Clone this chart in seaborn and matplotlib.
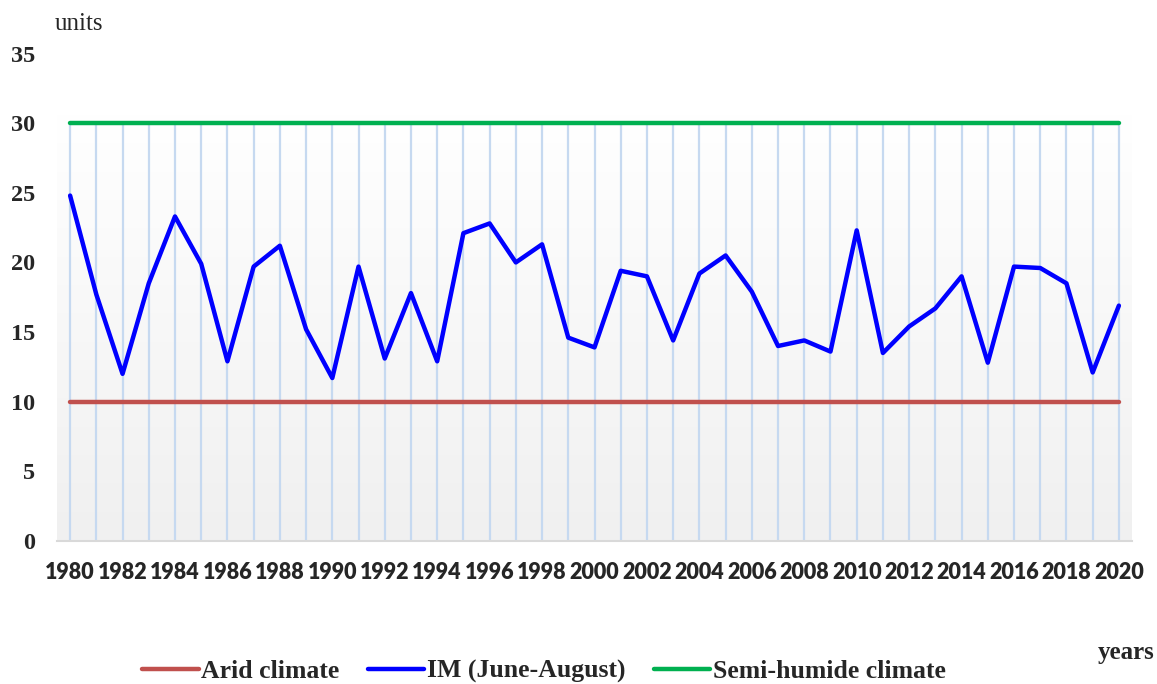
import numpy as np
import pandas as pd
import seaborn as sns
import matplotlib.pyplot as plt

# values
years = list(range(1980, 2021))
im_values = [24.8, 17.7, 12.0, 18.5, 23.3, 19.9, 12.9, 19.7, 21.2, 15.2,
             11.7, 19.7, 13.1, 17.8, 12.9, 22.1, 22.8, 20.0, 21.3, 14.6,
             13.9, 19.4, 19.0, 14.4, 19.2, 20.5, 17.9, 14.0, 14.4, 13.6,
             22.3, 13.5, 15.4, 16.7, 19.0, 12.8, 19.7, 19.6, 18.5, 12.1,
             16.9]
arid_level = 10
semi_humid_level = 30
year_labels = [str(y) for y in range(1980, 2021, 2)]

df = pd.DataFrame({
    'year': years,
    'IM (June-August)': im_values,
    'Arid climate': [arid_level] * len(years),
    'Semi-humide climate': [semi_humid_level] * len(years),
})

sns.set_style('white')
serif = ['Liberation Serif', 'DejaVu Serif']

fig = plt.figure(figsize=(11.57, 6.84), dpi=100)
ax = fig.add_axes([57 / 1157, 1 - 541 / 684, (1132 - 57) / 1157, (541 - 53.5) / 684])

# plot area gradient (white at top -> light grey at bottom)
grad = np.linspace(0, 1, 256).reshape(-1, 1)
ax.imshow(grad, extent=(1979.5, 2020.5, 0, 30.6), aspect='auto',
          cmap=sns.blend_palette(['#f0f0f0', '#ffffff'], as_cmap=True),
          origin='lower', zorder=0)

# vertical drop lines at every year
ax.vlines(df['year'], 0, semi_humid_level, color='#c6d9f0', lw=1.6, zorder=1)

sns.lineplot(data=df, x='year', y='Arid climate', color='#c0504d', lw=3.2,
             label='Arid climate', ax=ax, zorder=3)
sns.lineplot(data=df, x='year', y='IM (June-August)', color='#0000ff', lw=3.2,
             label='IM (June-August)', ax=ax, zorder=4)
sns.lineplot(data=df, x='year', y='Semi-humide climate', color='#00b050', lw=3.2,
             label='Semi-humide climate', ax=ax, zorder=3)

ax.set_xlim(1979.5, 2020.5)
ax.set_ylim(0, 35)
ax.set_xticks(range(1980, 2021, 2))
ax.set_xticklabels(year_labels, fontfamily='Lato', fontweight='heavy', fontsize=15.5)
ax.set_yticks(range(0, 36, 5))
ax.set_yticklabels([str(v) for v in range(0, 36, 5)], fontfamily=serif,
                   fontweight='bold', fontsize=17.5)
ax.tick_params(axis='y', length=0, pad=16)
ax.tick_params(axis='x', length=0, pad=15)
ax.set_xlabel('')
ax.set_ylabel('')
ax.grid(False)
for side in ['left', 'right', 'top']:
    ax.spines[side].set_visible(False)
ax.spines['bottom'].set_color('#d9d9d9')
ax.spines['bottom'].set_linewidth(1.5)
ax.set_facecolor('white')

fig.text(55 / 1157, 1 - 24 / 684, 'units', fontfamily=serif, fontsize=18,
         va='center', ha='left')
fig.text(1154 / 1157, 1 - 652 / 684, 'years', fontfamily=serif, fontsize=18,
         fontweight='bold', va='center', ha='right')

handles, labels = ax.get_legend_handles_labels()
ax.get_legend().remove()
fig.legend(handles, labels, loc='center', bbox_to_anchor=(0.47, 0.018), ncol=3,
           frameon=False, handlelength=2.2, handletextpad=0.1, columnspacing=1.1,
           prop={'family': serif, 'weight': 'bold', 'size': 18.5})

fig.savefig('out.png', dpi=100)
